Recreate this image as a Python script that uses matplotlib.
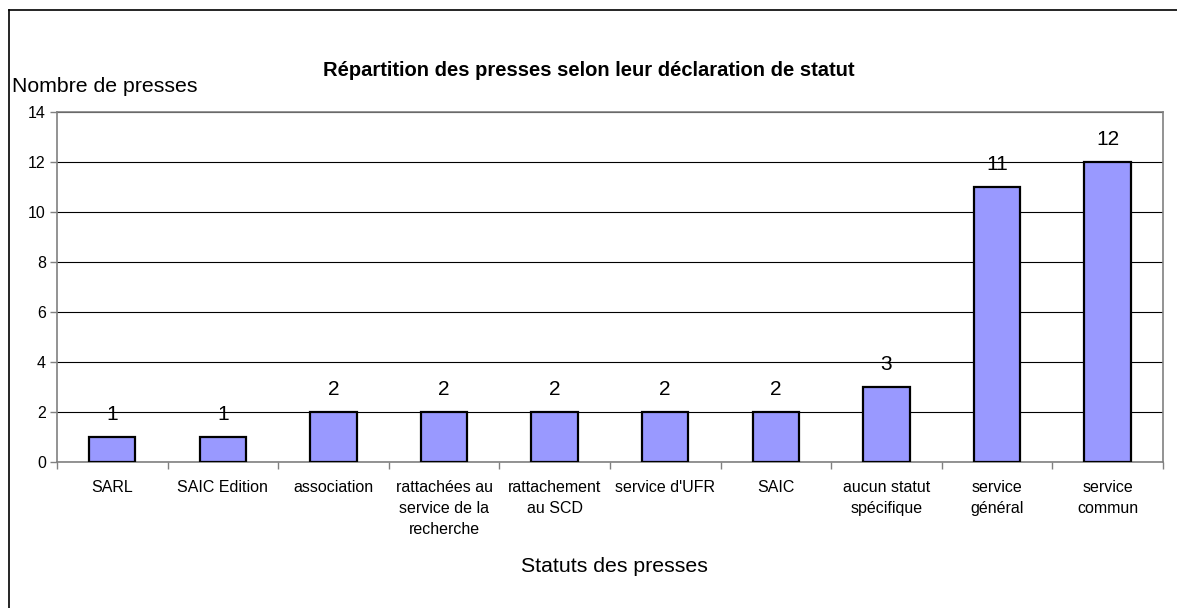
import numpy as np
import matplotlib.pyplot as plt
from matplotlib.lines import Line2D

plt.rcParams['font.family'] = ['Liberation Sans', 'DejaVu Sans']

categories = ["SARL", "SAIC Edition", "association",
              "rattachées au\nservice de la\nrecherche", "rattachement\nau SCD",
              "service d'UFR", "SAIC", "aucun statut\nspécifique",
              "service\ngénéral", "service\ncommun"]
counts = [1, 1, 2, 2, 2, 2, 2, 3, 11, 12]
yticks = [0, 2, 4, 6, 8, 10, 12, 14]

fig = plt.figure(figsize=(11.77, 6.08), dpi=100)
ax = fig.add_axes([0.0484, 0.240, 0.9396, 0.576])

x = np.arange(len(categories))
ax.bar(x, counts, width=0.42, color='#9999FF', edgecolor='black', linewidth=1.6, zorder=3)

for xi, v in zip(x, counts):
    ax.annotate(str(v), (xi, v), xytext=(0, 16), textcoords='offset points',
                ha='center', va='center', fontsize=15, zorder=4)

ax.set_xlim(-0.5, len(categories) - 0.5)
ax.set_ylim(0, 14)
ax.set_yticks(yticks)
ax.yaxis.grid(True, color='black', linewidth=0.8, zorder=1)
ax.set_axisbelow(True)

ax.set_xticks(x)
ax.set_xticklabels(categories, fontsize=11.5, linespacing=1.48, va='top')
ax.set_xticks(np.arange(len(categories) + 1) - 0.5, minor=True)
ax.tick_params(axis='x', which='major', length=0, pad=13)
ax.tick_params(axis='x', which='minor', length=5, width=1, color='#808080', direction='out')
ax.tick_params(axis='y', labelsize=11.5, length=5, width=1, color='#808080', direction='out', pad=3)

for s in ax.spines.values():
    s.set_color('#808080')
    s.set_linewidth(1.2)

fig.text(0.5, 1 - 70 / 608, "Répartition des presses selon leur déclaration de statut",
         ha='center', va='center', fontsize=14.5, fontweight='bold')
fig.text(12 / 1177, 1 - 86 / 608, "Nombre de presses", ha='left', va='center', fontsize=15.3)
fig.text(614 / 1177, 1 - 566 / 608, "Statuts des presses", ha='center', va='center', fontsize=15.3)

# outer chart border (top and left visible)
fig.add_artist(Line2D([9 / 1177, 9 / 1177], [0, 1 - 10 / 608], color='black', linewidth=1.2,
                      transform=fig.transFigure))
fig.add_artist(Line2D([9 / 1177, 1], [1 - 10 / 608, 1 - 10 / 608], color='black', linewidth=1.2,
                      transform=fig.transFigure))

fig.savefig('out.png', dpi=100)
